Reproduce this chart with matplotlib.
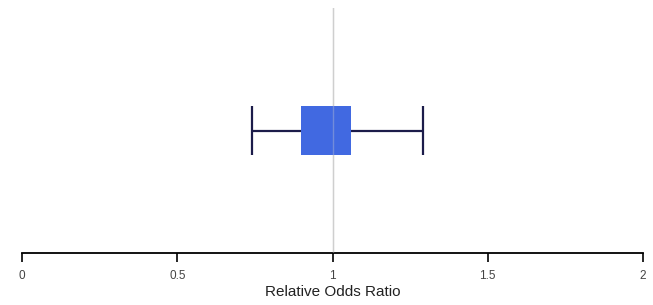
import matplotlib
matplotlib.use("Agg")
import matplotlib.pyplot as plt

# odds ratio interval
whisker_low = 0.74
box_low = 0.90
box_high = 1.06
whisker_high = 1.29
ref_value = 1.0

tick_vals = [0, 0.5, 1, 1.5, 2]
tick_labels = ["0", "0.5", "1", "1.5", "2"]

BOX = "#4169e1"
NAVY = "#1c1c4a"
GRID = "#cfcfcf"

plt.rcParams["font.family"] = ["Liberation Sans", "DejaVu Sans"]

fig = plt.figure(figsize=(6.53, 3.05), dpi=100)
ax = fig.add_axes([22 / 653, 1 - 253 / 305, 621 / 653, 245 / 305])

yc, h = 0.5, 0.204
ax.hlines(yc, whisker_low, box_low, color=NAVY, linewidth=1.6, zorder=2)
ax.hlines(yc, box_high, whisker_high, color=NAVY, linewidth=1.6, zorder=2)
ax.vlines([whisker_low, whisker_high], yc - h / 2, yc + h / 2,
          color=NAVY, linewidth=1.6, zorder=2)
ax.barh(yc, box_high - box_low, left=box_low, height=h, color=BOX, zorder=3)
ax.axvline(ref_value, color=GRID, linewidth=1.0, zorder=1)
ax.axvline(ref_value, color=GRID, linewidth=1.0, alpha=0.35, zorder=4)

ax.set_xlim(0, 2)
ax.set_ylim(0, 1)
ax.set_xticks(tick_vals)
ax.set_xticklabels(tick_labels, fontsize=8.5, color="#444444")
ax.tick_params(axis="x", length=6.5, width=1.2, pad=6, color="black")
ax.set_yticks([])
for s in ["top", "left", "right"]:
    ax.spines[s].set_visible(False)
ax.spines["bottom"].set_linewidth(1.3)
ax.set_xlabel("Relative Odds Ratio", fontsize=11, labelpad=2, color="#222222")

fig.savefig("out.png", dpi=100)
